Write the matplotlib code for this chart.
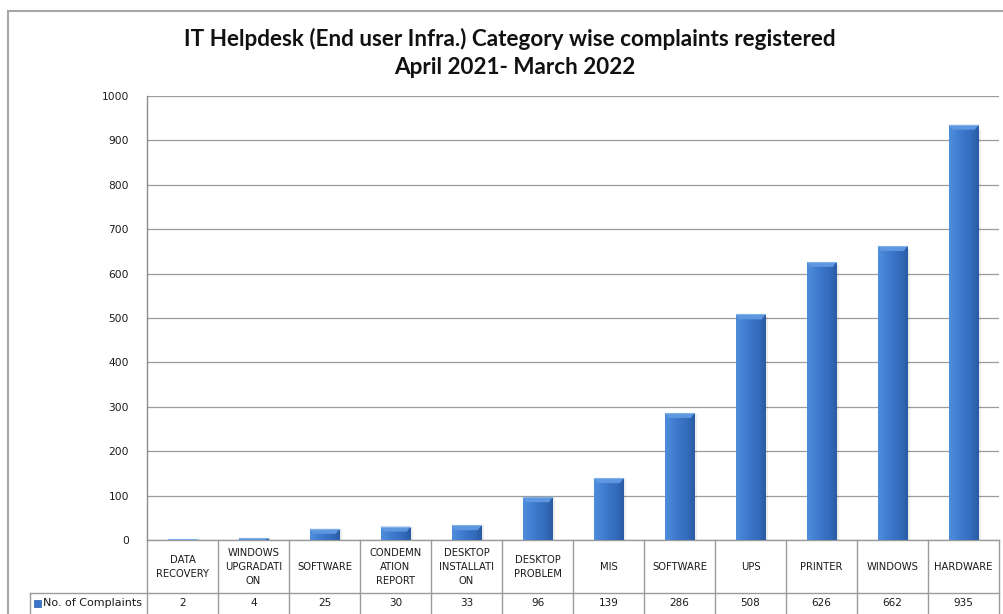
import numpy as np
import matplotlib
matplotlib.use("Agg")
import matplotlib.pyplot as plt
from matplotlib.lines import Line2D
from matplotlib.patches import Polygon, Rectangle
from matplotlib.colors import LinearSegmentedColormap

# ---- data ----
categories = [
    "DATA\nRECOVERY", "WINDOWS\nUPGRADATI\nON", "SOFTWARE", "CONDEMN\nATION\nREPORT",
    "DESKTOP\nINSTALLATI\nON", "DESKTOP\nPROBLEM", "MIS", "SOFTWARE", "UPS",
    "PRINTER", "WINDOWS", "HARDWARE",
]
complaints = [2, 4, 25, 30, 33, 96, 139, 286, 508, 626, 662, 935]
series_name = "No. of Complaints"
y_ticks = [0, 100, 200, 300, 400, 500, 600, 700, 800, 900, 1000]
title_lines = ["IT Helpdesk (End user Infra.) Category wise complaints registered",
               "April 2021- March 2022"]

W, H = 1004, 614
fig = plt.figure(figsize=(W / 100, H / 100), dpi=100)
fig.patch.set_facecolor("white")

def fx(px):
    return px / W

def fy(py):
    return 1 - py / H

text_c = "#1a1a1a"

# plot area
left_px, right_px, top_px, zero_px = 147, 999, 96, 540
ax = fig.add_axes([fx(left_px), fy(zero_px), fx(right_px - left_px), (zero_px - top_px) / H])
n = len(categories)
x = np.arange(n)
ax.set_xlim(-0.5, n - 0.5)
ax.set_ylim(0, 1000)
ax.set_yticks(y_ticks)
ax.set_yticklabels([str(t) for t in y_ticks], fontsize=7.7, color=text_c)
ax.tick_params(axis="y", length=0, pad=13)
ax.set_xticks([])
for s in ("top", "right", "bottom"):
    ax.spines[s].set_visible(False)
ax.spines["left"].set_color("#8c8c8c")
ax.spines["left"].set_linewidth(1.0)
ax.yaxis.grid(True, color="#9c9c9c", linewidth=0.9)
ax.set_axisbelow(True)

# bars with a shaded, bevelled look
bar_w = 0.42
bars = ax.bar(x, complaints, width=bar_w, color="#3b76cc", edgecolor="none", zorder=2)
grad = LinearSegmentedColormap.from_list(
    "barshade", ["#4f8edb", "#4380d4", "#3a74c8", "#346bbc", "#2a5ca4"])
shade = np.linspace(0, 1, 64).reshape(1, -1)
for b, v in zip(bars, complaints):
    x0 = b.get_x()
    x1 = x0 + b.get_width()
    # soft drop shadow on the right
    ax.add_patch(Rectangle((x1, 0), 0.03, v * 0.99, facecolor="#000000", alpha=0.07,
                           edgecolor="none", zorder=1.5))
    im = ax.imshow(shade, cmap=grad, aspect="auto", extent=(x0, x1, 0, v),
                   interpolation="bilinear", zorder=2.1)
    im.set_clip_path(b)
    e = min(v, 11)
    d = b.get_width() * 0.12
    ax.add_patch(Polygon([(x0, v), (x1, v), (x1 - d, v - e), (x0 + d, v - e)],
                         closed=True, facecolor="#5e97df", edgecolor="none", zorder=2.2))
    ax.add_line(Line2D([x0, x1], [v, v], color="#7fb0ea", linewidth=0.8, zorder=2.3))
ax.set_xlim(-0.5, n - 0.5)
ax.set_ylim(0, 1000)

# data table beneath the plot
grid_c = "#9a9a9a"
ax_h = zero_px - top_px
ax_w = right_px - left_px

def ay(py):
    return (zero_px - py) / ax_h

def axx(px):
    return (px - left_px) / ax_w

row1_bot = 593
row2_bot = 620
tbl = dict(transform=ax.transAxes, clip_on=False, color=grid_c, linewidth=1.0)
ax.add_line(Line2D([0, 1], [0, 0], **tbl))
ax.add_line(Line2D([axx(30), 1], [ay(row1_bot), ay(row1_bot)], **tbl))
for k in range(n + 1):
    ax.add_line(Line2D([k / n, k / n], [0, ay(row2_bot)], **tbl))
ax.add_line(Line2D([axx(30), axx(30)], [ay(row1_bot), ay(row2_bot)], **tbl))

for i, (cat, v) in enumerate(zip(categories, complaints)):
    ax.text(i, ay((zero_px + row1_bot) / 2 + 0.5), cat, transform=ax.get_xaxis_transform(),
            ha="center", va="center", fontsize=7.2, color=text_c, linespacing=1.45,
            clip_on=False)
    ax.text(i, ay(603), str(v), transform=ax.get_xaxis_transform(),
            ha="center", va="center", fontsize=7.5, color=text_c, clip_on=False)

# legend key in the table's first cell
ax.add_patch(Rectangle((axx(34), ay(607)), 7 / ax_w, 7 / ax_h, transform=ax.transAxes,
                       facecolor="#3b76cc", edgecolor="#2b5ea8", linewidth=0.5, clip_on=False))
ax.text(axx(43), ay(603), series_name, transform=ax.transAxes, ha="left", va="center",
        fontsize=8, color=text_c, clip_on=False)

# chart frame
frame_c = "#a6a6a6"
fig.add_artist(Line2D([fx(8), fx(8)], [fy(11), fy(H + 5)], color=frame_c, linewidth=1.5))
fig.add_artist(Line2D([fx(8), fx(W + 5)], [fy(11), fy(11)], color=frame_c, linewidth=1.5))

# title
fig.text(fx(510), fy(39), title_lines[0], ha="center", va="center",
         fontsize=16.2, fontweight="bold", family="Lato", color="#111111")
fig.text(fx(515), fy(68), title_lines[1], ha="center", va="center",
         fontsize=16.2, fontweight="bold", family="Lato", color="#111111")

fig.savefig("out.png", dpi=100, facecolor="white")
